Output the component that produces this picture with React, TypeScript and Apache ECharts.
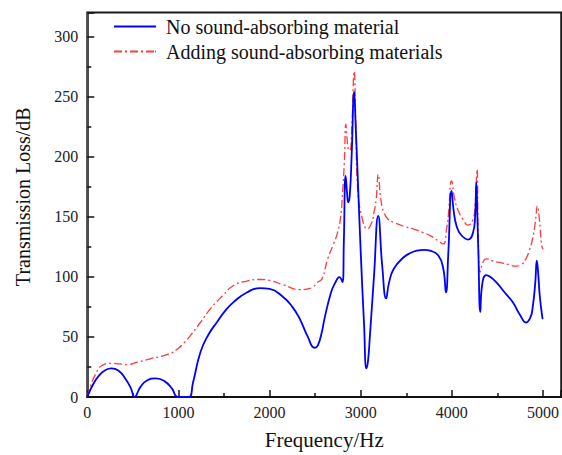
import React, { useEffect, useRef } from "react";
import * as echarts from "echarts";

const freqBlue = [0, 60, 130, 200, 265, 340, 420, 480, 518, 580, 650, 754, 850, 930, 990, 1050, 1116, 1160, 1243, 1330, 1424, 1510, 1605, 1750, 1895, 2000, 2149, 2250, 2330, 2420, 2493, 2530, 2576, 2602, 2674, 2720, 2765, 2801, 2815, 2834, 2850, 2863, 2880, 2900, 2928, 2945, 2964, 3000, 3037, 3062, 3080, 3100, 3146, 3192, 3236, 3279, 3310, 3363, 3472, 3550, 3616, 3700, 3761, 3852, 3906, 3935, 3961, 3997, 4020, 4051, 4100, 4178, 4233, 4255, 4268, 4280, 4290, 4312, 4330, 4377, 4420, 4486, 4580, 4667, 4750, 4812, 4860, 4885, 4915, 4932, 4950, 4964, 4993, 5000];
const tlBlue = [0, 10, 18, 22.5, 23.8, 22, 15, 7, 0, 8, 13.5, 15.5, 13, 7, 0, 0, 0, 12, 37.6, 52, 62.5, 71.5, 79, 87, 90.6, 90, 83.2, 75, 65.2, 50, 41, 43, 55, 65, 87, 95, 99.8, 95.6, 130, 184, 170, 162, 168, 200, 254, 225, 189.5, 120.5, 59.7, 23.8, 30, 50, 101, 150.8, 109, 82, 95, 106.7, 116.3, 120, 121.8, 122.5, 121.8, 117.7, 106.7, 87, 119.6, 171.5, 155, 142.5, 135, 131, 137, 150, 178.5, 150, 123, 70.8, 92, 101.4, 100, 95.6, 87, 79, 68, 62, 66, 73.5, 95, 113.5, 100, 84.5, 66, 65];

const freqRed = [0, 40, 84, 156, 265, 350, 446, 550, 700, 880, 990, 1060, 1134, 1240, 1352, 1480, 1605, 1750, 1895, 2000, 2149, 2330, 2420, 2475, 2529, 2576, 2638, 2700, 2747, 2780, 2801, 2820, 2837, 2850, 2863, 2880, 2900, 2928, 2945, 2964, 3018, 3073, 3120, 3146, 3170, 3192, 3220, 3254, 3300, 3363, 3480, 3580, 3680, 3761, 3850, 3906, 3942, 3961, 3997, 4030, 4070, 4120, 4178, 4233, 4255, 4276, 4290, 4310, 4340, 4377, 4460, 4558, 4630, 4703, 4760, 4812, 4850, 4885, 4915, 4939, 4960, 4986, 5000];
const tlRed = [0, 10, 18, 26, 28, 27.5, 27, 29, 32, 35.4, 40, 45, 51.4, 62, 73.5, 84, 92.8, 96.5, 97.8, 97, 93.4, 89.3, 90, 91.5, 95.6, 98.4, 115, 127, 137, 150, 170, 195, 227, 215, 206, 205, 220, 271, 230, 175.7, 148, 139.8, 145, 153.6, 165, 185.4, 165, 153.6, 148, 145.3, 142, 139.8, 137, 134.3, 130, 127.4, 139.8, 151, 179.8, 165, 155, 148, 143, 148, 160, 189.5, 130, 104, 112, 115, 113, 111.5, 110, 108.9, 110, 115, 122, 131.5, 145, 159, 148, 126, 123];

const seriesNames = ["No sound-absorbing material", "Adding sound-absorbing materials"];

const serif = "'Liberation Serif', 'Times New Roman', serif";

const solidIcon = "path://M0,0H42V2H0Z";
const dashDotIcon =
  "path://M0,0H8V2H0Z M11,0H13V2H11Z M16,0H24V2H16Z M27,0H29V2H27Z M32,0H40V2H32Z M41,0H42V2H41Z";

export default function App() {
  const ref = useRef<HTMLDivElement>(null);
  useEffect(() => {
    document.body.style.margin = "0";
    document.body.style.overflow = "hidden";
    const chart = echarts.init(ref.current!, null, { renderer: "svg" });
    const blueData = freqBlue.map((f, i) => [f, tlBlue[i]]);
    const redData = freqRed.map((f, i) => [f, tlRed[i]]);
    chart.setOption({
      animation: false,
      backgroundColor: "#ffffff",
      grid: {
        left: 87.3,
        right: -3.7,
        top: 12.5,
        bottom: 56.3,
        show: true,
        borderColor: "#1a1a1a",
        borderWidth: 2,
        backgroundColor: "transparent",
      },
      legend: {
        orient: "vertical",
        left: 114,
        top: 16.5,
        padding: 0,
        itemWidth: 42,
        itemHeight: 2,
        itemGap: 5,
        textStyle: {
          fontFamily: serif,
          fontSize: 20,
          color: "#111",
          lineHeight: 20,
          padding: [0, 0, 0, 5],
        },
        data: [
          { name: seriesNames[0], icon: solidIcon },
          { name: seriesNames[1], icon: dashDotIcon },
        ],
      },
      xAxis: {
        type: "value",
        min: 0,
        max: 5200,
        interval: 1000,
        name: "Frequency/Hz",
        nameLocation: "middle",
        nameGap: 32,
        nameTextStyle: { fontFamily: serif, fontSize: 21, color: "#111" },
        axisLine: { show: true, onZero: false, lineStyle: { color: "#111", width: 2 } },
        axisTick: { show: true, inside: true, length: 7, lineStyle: { color: "#111", width: 1.5 } },
        minorTick: { show: true, splitNumber: 2, length: 4, lineStyle: { color: "#111", width: 1.5 } },
        axisLabel: {
          fontFamily: serif,
          fontSize: 16,
          color: "#222",
          margin: 7,
          showMaxLabel: false,
          formatter: (v: number) => String(v),
        },
        splitLine: { show: false },
      },
      yAxis: {
        type: "value",
        min: 0,
        max: 320,
        interval: 50,
        name: "Transmission Loss/dB",
        nameLocation: "middle",
        nameGap: 54,
        nameTextStyle: { fontFamily: serif, fontSize: 20, color: "#111", padding: [0, 0, 0, 16] },
        axisLine: { show: true, onZero: false, lineStyle: { color: "#4d4d4d", width: 2 } },
        axisTick: { show: true, inside: true, length: 7, lineStyle: { color: "#111", width: 1.5 } },
        minorTick: { show: true, splitNumber: 2, length: 4, lineStyle: { color: "#111", width: 1.5 } },
        axisLabel: {
          fontFamily: serif,
          fontSize: 16,
          color: "#222",
          margin: 9,
          showMaxLabel: false,
          formatter: (v: number) => String(v),
        },
        splitLine: { show: false },
      },
      series: [
        {
          name: seriesNames[0],
          type: "line",
          data: blueData,
          showSymbol: false,
          symbol: "none",
          smooth: 0.5,
          color: "#0000ff",
          lineStyle: { color: "#0000ff", width: 1.8 },
          z: 3,
        },
        {
          name: seriesNames[1],
          type: "line",
          data: redData,
          showSymbol: false,
          symbol: "none",
          smooth: 0.5,
          color: "#ff3b3b",
          lineStyle: { color: "#ff3b3b", width: 1.3, type: [8, 3, 2, 3] },
          z: 2,
        },
      ],
    });
    return () => chart.dispose();
  }, []);
  return <div ref={ref} style={{ width: 562, height: 455 }} />;
}
